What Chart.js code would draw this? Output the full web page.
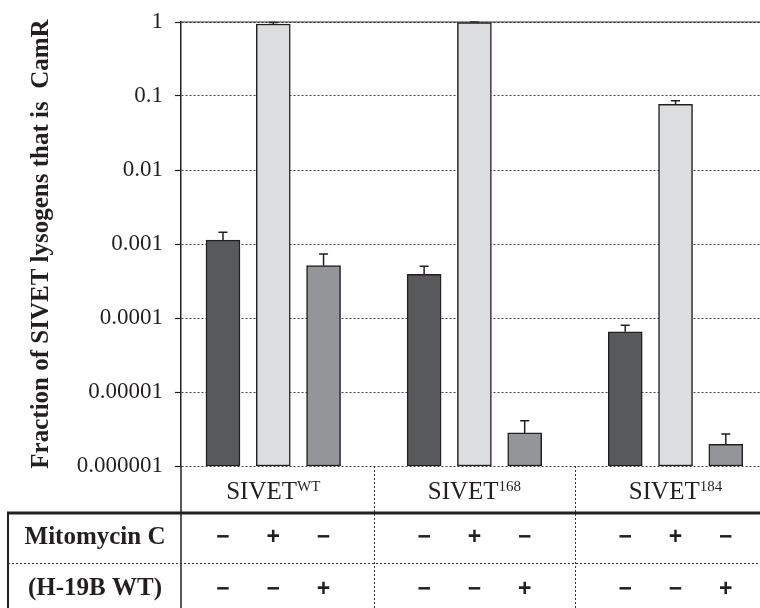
<!DOCTYPE html>
<html>
<head>
<meta charset="utf-8">
<script src="https://cdn.jsdelivr.net/npm/chart.js@4.4.1/dist/chart.umd.min.js"></script>
<style>
  html, body { margin: 0; padding: 0; background: #fff; }
</style>
</head>
<body>
<canvas id="grafico" width="760" height="608"></canvas>
<script>
// posicao de cada barra no eixo x (3 grupos de 3, com uma casa vazia entre grupos)
const posicoes = [0, 1, 2, 4, 5, 6, 8, 9, 10];
const valores = [0.00113, 0.94, 0.00051, 0.00039, 0.98, 0.0000028, 0.000065, 0.077, 0.00000196];
const errosSup = [0.00144, 0.985, 0.00073, 0.0005, 1.0, 0.0000041, 0.00008, 0.086, 0.0000027];
const coresBarras = ['#58595b', '#dcdddf', '#939598', '#58595b', '#dcdddf', '#939598', '#58595b', '#dcdddf', '#939598'];

const grupos = ['SIVET', 'SIVET', 'SIVET'];
const gruposSup = ['WT', '168', '184'];
const centrosGrupos = [1, 5, 9];
const divisores = [3, 7];

const linhasTabela = ['Mitomycin C', '(H-19B WT)'];
const mitomicina = ['\u2212', '+', '\u2212', '\u2212', '+', '\u2212', '\u2212', '+', '\u2212'];
const h19b = ['\u2212', '\u2212', '+', '\u2212', '\u2212', '+', '\u2212', '\u2212', '+'];

const yTicks = [0.000001, 0.00001, 0.0001, 0.001, 0.01, 0.1, 1];
const yTickLabels = ['0.000001', '0.00001', '0.0001', '0.001', '0.01', '0.1', '1'];

const corTexto = '#231f20';
const serif = '"Liberation Serif", "Times New Roman", serif';

const pluginErros = {
    id: 'erros',
    afterDatasetsDraw(chart) {
        const ctx = chart.ctx;
        const xS = chart.scales.x, yS = chart.scales.y;
        ctx.save();
        ctx.strokeStyle = corTexto;
        ctx.lineWidth = 1.5;
        posicoes.forEach((p, i) => {
            const x = xS.getPixelForValue(p);
            const y0 = yS.getPixelForValue(valores[i]);
            const y1 = yS.getPixelForValue(errosSup[i]);
            ctx.beginPath();
            ctx.moveTo(x, y0); ctx.lineTo(x, y1);
            ctx.moveTo(x - 4.5, y1); ctx.lineTo(x + 4.5, y1);
            ctx.stroke();
        });
        ctx.restore();
    }
};

const pluginTabela = {
    id: 'tabela',
    afterDraw(chart) {
        const ctx = chart.ctx;
        const area = chart.chartArea;
        const xS = chart.scales.x;
        ctx.save();

        // linha superior solida
        ctx.strokeStyle = '#333';
        ctx.lineWidth = 1.2;
        ctx.beginPath(); ctx.moveTo(area.left, area.top); ctx.lineTo(area.right, area.top); ctx.stroke();

        // eixo y continua ate o fim da tabela
        ctx.strokeStyle = corTexto;
        ctx.lineWidth = 1.5;
        ctx.beginPath(); ctx.moveTo(area.left, area.bottom); ctx.lineTo(area.left, 608); ctx.stroke();

        // linha grossa da tabela
        ctx.lineWidth = 3;
        ctx.beginPath(); ctx.moveTo(7, 513); ctx.lineTo(760, 513); ctx.stroke();
        ctx.lineWidth = 2;
        ctx.beginPath(); ctx.moveTo(8, 512); ctx.lineTo(8, 608); ctx.stroke();

        // linhas pontilhadas
        ctx.setLineDash([2, 2]);
        ctx.lineWidth = 1;
        ctx.strokeStyle = '#333';
        ctx.beginPath(); ctx.moveTo(8, 563.5); ctx.lineTo(760, 563.5); ctx.stroke();
        divisores.forEach(d => {
            const x = Math.round(xS.getPixelForValue(d)) + 0.5;
            ctx.beginPath(); ctx.moveTo(x, area.bottom); ctx.lineTo(x, 608); ctx.stroke();
        });
        ctx.setLineDash([]);

        // rotulos dos grupos com sobrescrito
        ctx.fillStyle = corTexto;
        ctx.textBaseline = 'alphabetic';
        ctx.textAlign = 'left';
        grupos.forEach((g, i) => {
            ctx.font = '25px ' + serif;
            const w1 = ctx.measureText(g).width;
            ctx.font = '15px ' + serif;
            const w2 = ctx.measureText(gruposSup[i]).width;
            const x0 = xS.getPixelForValue(centrosGrupos[i]) - (w1 + w2) / 2;
            ctx.font = '25px ' + serif;
            ctx.fillText(g, x0, 499);
            ctx.font = '15px ' + serif;
            ctx.fillText(gruposSup[i], x0 + w1, 491);
        });

        // rotulos das linhas
        ctx.textAlign = 'center';
        ctx.textBaseline = 'middle';
        ctx.font = 'bold 25px ' + serif;
        ctx.fillText(linhasTabela[0], 95, 538);
        ctx.fillText(linhasTabela[1], 95, 589);

        // sinais
        ctx.font = 'bold 23px "Liberation Sans", Arial, sans-serif';
        posicoes.forEach((p, i) => {
            const x = xS.getPixelForValue(p);
            ctx.fillText(mitomicina[i], x, 538);
            ctx.fillText(h19b[i], x, 590);
        });
        ctx.restore();
    }
};

new Chart(document.getElementById('grafico'), {
    type: 'bar',
    data: {
        datasets: [{
            data: posicoes.map((p, i) => ({ x: p, y: valores[i] })),
            backgroundColor: coresBarras,
            borderColor: corTexto,
            borderWidth: 1.5,
            borderSkipped: false,
            barThickness: 34
        }]
    },
    options: {
        responsive: false,
        animation: false,
        layout: { padding: { top: 22, bottom: 142, left: 0, right: 0 } },
        plugins: { legend: { display: false }, tooltip: { enabled: false } },
        scales: {
            x: { type: 'linear', display: false, min: -0.835, max: 10.68, offset: false },
            y: {
                type: 'logarithmic',
                min: 0.000001, max: 1,
                afterBuildTicks: (scale) => { scale.ticks = yTicks.map(v => ({ value: v })); },
                afterFit: (scale) => {
                    scale.width = 181;
                    scale.paddingTop = 0;
                    scale.paddingBottom = 0;
                },
                ticks: {
                    callback: (v) => yTickLabels[yTicks.indexOf(v)],
                    font: { family: serif, size: 23 },
                    color: corTexto,
                    padding: 12,
                    autoSkip: false
                },
                grid: { color: '#444', lineWidth: 1, tickLength: 6, tickColor: corTexto, tickWidth: 1.2 },
                border: { display: true, color: corTexto, width: 1.5, dash: [2, 2] },
                title: {
                    display: true,
                    text: 'Fraction of SIVET lysogens that is  CamR',
                    font: { family: serif, size: 25, weight: 'bold' },
                    color: corTexto,
                    padding: { top: 27, bottom: 0 }
                }
            }
        }
    },
    plugins: [pluginErros, pluginTabela]
});
</script>
</body>
</html>
